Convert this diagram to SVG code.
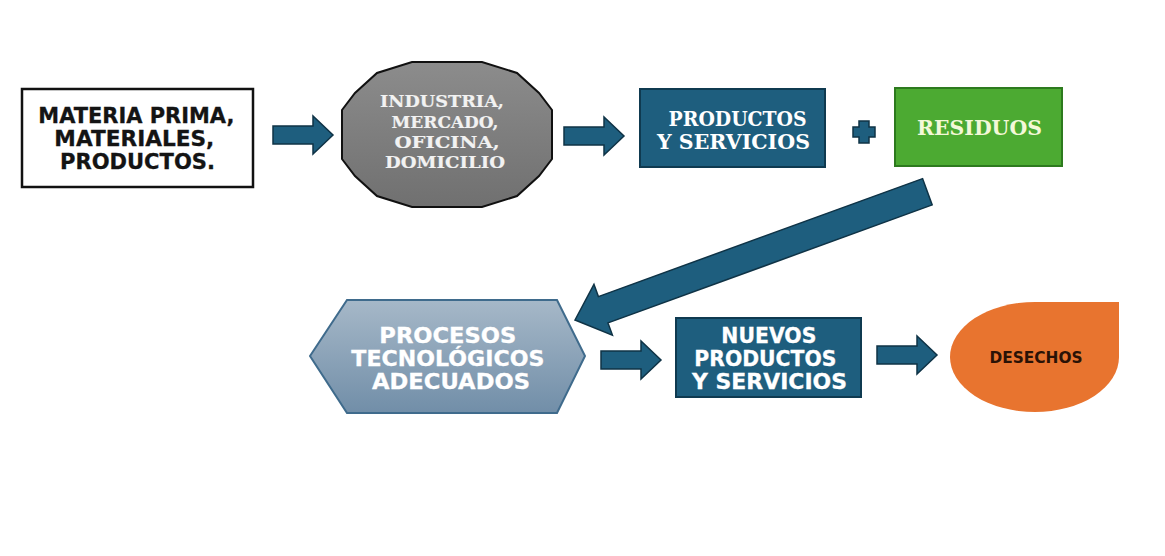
<svg xmlns="http://www.w3.org/2000/svg" width="1165" height="556" viewBox="0 0 1165 556">
  <defs>
    <linearGradient id="grayGrad" x1="0" y1="0" x2="0" y2="1">
      <stop offset="0" stop-color="#8c8c8c"/>
      <stop offset="1" stop-color="#707070"/>
    </linearGradient>
    <linearGradient id="hexGrad" x1="0" y1="0" x2="0" y2="1">
      <stop offset="0" stop-color="#a6b8c8"/>
      <stop offset="1" stop-color="#718ea8"/>
    </linearGradient>
    <path id="harrow" d="M0,-9 H40 V-19 L60,0 L40,19 V9 H0 Z"/>
  </defs>
  <style>
    .arrow { fill: #1e5e7e; stroke: #0f3346; stroke-width: 1.5; stroke-linejoin: miter; }
    .sans { font-family: "DejaVu Sans", Verdana, sans-serif; font-weight: bold; text-anchor: middle; }
    .serif { font-family: "DejaVu Serif", Georgia, serif; font-weight: bold; text-anchor: middle; }
    .blue { fill: #1e5e7e; stroke: #0f3a50; stroke-width: 2; }
  </style>
  <rect width="1165" height="556" fill="#ffffff"/>

  <g id="connectors">
    <use href="#harrow" class="arrow" transform="translate(273,135)"/>
    <use href="#harrow" class="arrow" transform="translate(564,136)"/>
    <use href="#harrow" class="arrow" transform="translate(601,360)"/>
    <use href="#harrow" class="arrow" transform="translate(877,355)"/>
    <polygon class="arrow" points="0,0 -30,-27 -30,-14 -375,-14 -375,14 -30,14 -30,27" transform="translate(575,320) rotate(160)"/>
  </g>

  <g id="materia">
    <rect x="22" y="89" width="231" height="98" fill="#ffffff" stroke="#111111" stroke-width="2.5"/>
    <text class="sans" font-size="21" fill="#141414" stroke="#141414" stroke-width="0.3">
      <tspan x="140" y="123" textLength="196" lengthAdjust="spacingAndGlyphs">MATERIA PRIMA,</tspan>
      <tspan x="138" y="146" textLength="160" lengthAdjust="spacingAndGlyphs">MATERIALES,</tspan>
      <tspan x="137.5" y="169" textLength="155" lengthAdjust="spacingAndGlyphs">PRODUCTOS.</tspan>
    </text>
  </g>

  <g id="industria">
    <polygon points="342,110 355,93 377,73 412,62 482,62 517,73 539,93 552,110 552,159 539,176 517,196 482,207 412,207 377,196 355,176 342,159" fill="url(#grayGrad)" stroke="#111111" stroke-width="2"/>
    <text class="serif" font-size="17" fill="#f2f2f2" stroke="#f2f2f2" stroke-width="0.2">
      <tspan x="445" y="106.5" textLength="124" lengthAdjust="spacingAndGlyphs">INDUSTRIA,</tspan>
      <tspan x="448" y="128" textLength="107" lengthAdjust="spacingAndGlyphs">MERCADO,</tspan>
      <tspan x="450" y="148" textLength="105" lengthAdjust="spacingAndGlyphs">OFICINA,</tspan>
      <tspan x="445" y="168" textLength="120" lengthAdjust="spacingAndGlyphs">DOMICILIO</tspan>
    </text>
  </g>

  <g id="productos">
    <rect x="640" y="89" width="185" height="78" class="blue"/>
    <text class="serif" font-size="19.5" fill="#ffffff">
      <tspan x="741" y="125.5" textLength="138" lengthAdjust="spacingAndGlyphs">PRODUCTOS</tspan>
      <tspan x="733.5" y="148.5" textLength="153" lengthAdjust="spacingAndGlyphs">Y SERVICIOS</tspan>
    </text>
  </g>

  <g id="plus">
    <path d="M859,121 H869 V127 H875 V137 H869 V143 H859 V137 H853 V127 H859 Z" fill="#1e5e7e" stroke="#0f3346" stroke-width="1.5"/>
  </g>

  <g id="residuos">
    <rect x="895" y="88" width="167" height="78" fill="#4caa32" stroke="#2d7a1e" stroke-width="2"/>
    <text class="serif" font-size="20" fill="#f3f8d8" x="979.5" y="135" textLength="125" lengthAdjust="spacingAndGlyphs">RESIDUOS</text>
  </g>

  <g id="procesos">
    <polygon points="310,356 347,300 557,300 585,356 557,413 347,413" fill="url(#hexGrad)" stroke="#3f6b8c" stroke-width="2"/>
    <text class="sans" font-size="21" fill="#ffffff" stroke="#ffffff" stroke-width="0.3">
      <tspan x="451.5" y="343" textLength="137" lengthAdjust="spacingAndGlyphs">PROCESOS</tspan>
      <tspan x="451.5" y="366" textLength="193" lengthAdjust="spacingAndGlyphs">TECNOLÓGICOS</tspan>
      <tspan x="451" y="389" textLength="158" lengthAdjust="spacingAndGlyphs">ADECUADOS</tspan>
    </text>
  </g>

  <g id="nuevos">
    <rect x="676" y="318" width="185" height="79" class="blue"/>
    <text class="sans" font-size="21" fill="#ffffff" stroke="#ffffff" stroke-width="0.3">
      <tspan x="772.5" y="342.5" textLength="95" lengthAdjust="spacingAndGlyphs">NUEVOS</tspan>
      <tspan x="769" y="366" textLength="142" lengthAdjust="spacingAndGlyphs">PRODUCTOS</tspan>
      <tspan x="769.5" y="388.5" textLength="155" lengthAdjust="spacingAndGlyphs">Y SERVICIOS</tspan>
    </text>
  </g>

  <g id="desechos">
    <path d="M1035,302 H1119 V357 A84,55 0 0 1 1035,412 A85,55 0 0 1 950,357 A85,55 0 0 1 1035,302 Z" fill="#e8742f"/>
    <text class="sans" font-size="15" fill="#2a1206" x="1036" y="362.5" textLength="93" lengthAdjust="spacingAndGlyphs">DESECHOS</text>
  </g>
</svg>
